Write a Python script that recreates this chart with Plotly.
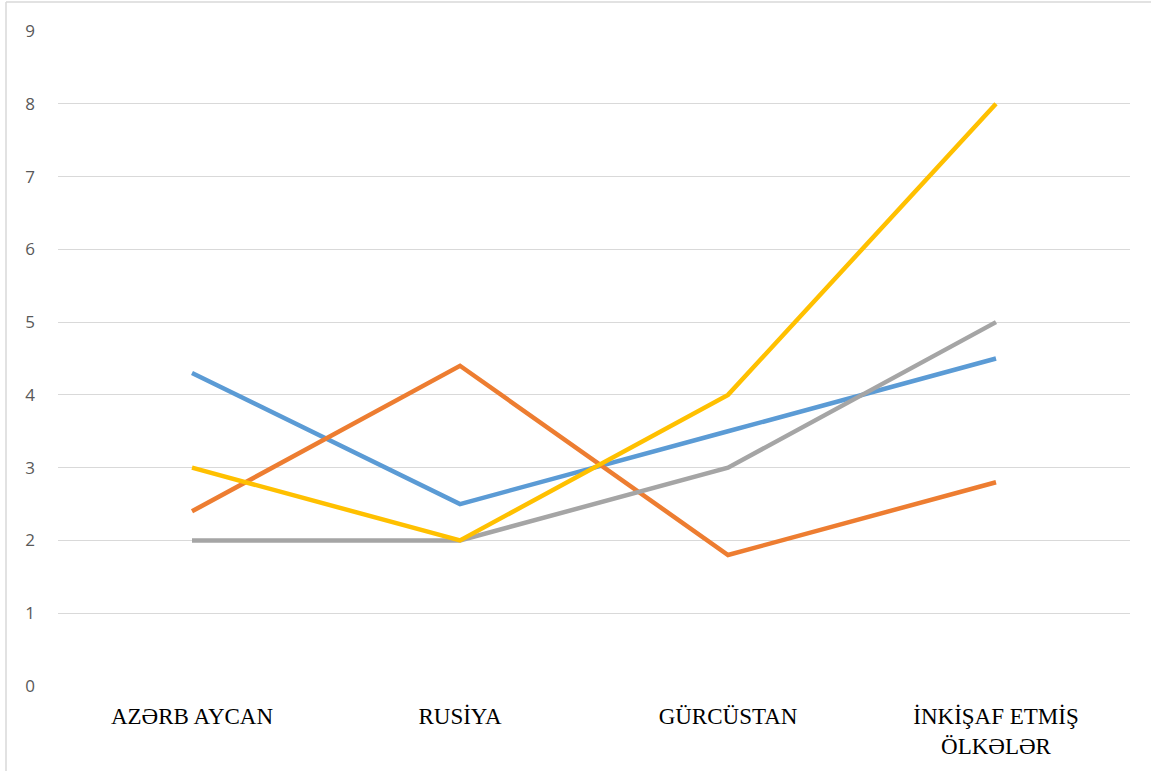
import plotly.graph_objects as go

categories = ['AZƏRB AYCAN', 'RUSİYA', 'GÜRCÜSTAN', 'İNKİŞAF ETMİŞ<br>ÖLKƏLƏR']
blue_vals = [4.3, 2.5, 3.5, 4.5]
orange_vals = [2.4, 4.4, 1.8, 2.8]
gray_vals = [2, 2, 3, 5]
yellow_vals = [3, 2, 4, 8]
y_ticks = list(range(0, 10))

series = [
    ('Seriya 1', blue_vals, '#5B9BD5'),
    ('Seriya 2', orange_vals, '#ED7D31'),
    ('Seriya 3', gray_vals, '#A5A5A5'),
    ('Seriya 4', yellow_vals, '#FFC000'),
]

fig = go.Figure()
for name, vals, color in series:
    fig.add_trace(go.Scatter(
        x=categories, y=vals,
        mode='lines',
        name=name,
        line=dict(width=4.5, color=color),
    ))

fig.update_layout(
    width=1151, height=771,
    margin=dict(l=58, r=21, t=31, b=85),
    paper_bgcolor='white',
    plot_bgcolor='white',
    showlegend=False,
    xaxis=dict(
        type='category',
        range=[-0.5, 3.5],
        showgrid=False,
        showline=False,
        zeroline=False,
        ticks='',
        ticklabelstandoff=14,
        tickfont=dict(family='Liberation Serif', size=23, color='#000000'),
    ),
    yaxis=dict(
        range=[0, 9],
        tickvals=y_ticks,
        showgrid=True,
        gridcolor='#D9D9D9',
        gridwidth=1.3,
        zeroline=False,
        showline=False,
        ticks='',
        ticklabelstandoff=22,
        tickfont=dict(family='Open Sans', size=17, color='#595959'),
    ),
    shapes=[
        # outer chart frame: left and top edges only
        dict(type='line', xref='paper', yref='paper',
             x0=(6 - 58) / 1072, x1=(6 - 58) / 1072,
             y0=-0.2, y1=(686 - 2) / 655,
             line=dict(color='#D9D9D9', width=1.5), layer='below'),
        dict(type='line', xref='paper', yref='paper',
             x0=(6 - 58) / 1072, x1=(1151 - 58) / 1072,
             y0=(686 - 2) / 655, y1=(686 - 2) / 655,
             line=dict(color='#D9D9D9', width=1.5), layer='below'),
    ],
)

fig.write_html('out.html', config={'displayModeBar': False},
               post_script="document.body.style.margin='0';")
